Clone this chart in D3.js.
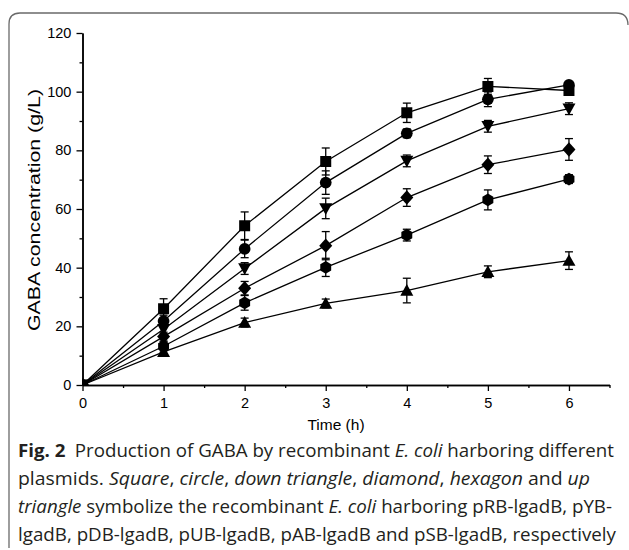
<!DOCTYPE html>
<html><head><meta charset="utf-8">
<script src="https://cdn.jsdelivr.net/npm/d3@7"></script>
<style>body{margin:0;background:#fff}svg{display:block}</style>
</head><body>
<script>
// ---- data ----
const times = [0, 1, 2, 3, 4, 5, 6];
const seriesNames = ["pRB-lgadB", "pYB-lgadB", "pDB-lgadB", "pUB-lgadB", "pAB-lgadB", "pSB-lgadB"];
const seriesShapes = ["square", "circle", "triangleDown", "diamond", "hexagon", "triangleUp"];
const pRB = [0, 26, 54.3, 76.2, 92.8, 101.8, 100.4];
const pYB = [0, 21.8, 46.4, 69, 85.8, 97.4, 102.3];
const pDB = [0, 19, 39.7, 60.2, 76.4, 88.2, 94.2];
const pUB = [0, 16.5, 33, 47.5, 63.9, 75.1, 80.3];
const pAB = [0, 13.2, 28, 40.1, 51.1, 63.1, 70.2];
const pSB = [0, 11.3, 21.3, 27.8, 32.2, 38.6, 42.4];
const errRB = [0, 3.4, 4.7, 4.6, 3.3, 2.7, 1];
const errYB = [0, 2, 3, 4, 1.5, 2.5, 1];
const errDB = [0, 1.5, 2, 3.5, 2, 2, 2];
const errUB = [0, 1.5, 2.3, 4.8, 3, 3, 3.7];
const errAB = [0, 1.5, 2.5, 3.1, 2, 3.4, 1.5];
const errSB = [0, 1.2, 1.5, 1.5, 4.2, 2, 3];
const xTicks = [0, 1, 2, 3, 4, 5, 6];
const yTicks = [0, 20, 40, 60, 80, 100, 120];
const xLabel = "Time (h)";
const yLabel = "GABA concentration (g/L)";

const seriesValues = [pRB, pYB, pDB, pUB, pAB, pSB];
const seriesErrors = [errRB, errYB, errDB, errUB, errAB, errSB];

const W = 629, H = 550;
const svg = d3.select("body").append("svg").attr("width", W).attr("height", H);

// frame
svg.append("path")
  .attr("d", "M9,548 L9,24 Q9,13 20,13 L616,13 Q628,13 628,25")
  .attr("fill", "none").attr("stroke", "#6a6a6a").attr("stroke-width", 1.3);

const x = d3.scaleLinear().domain([0, 6.5]).range([82.5, 609.5]);
const y = d3.scaleLinear().domain([0, 120]).range([385, 33]);

const g = svg.append("g");

// clip
svg.append("clipPath").attr("id", "plotclip").append("rect")
  .attr("x", x(0)).attr("y", y(120) - 10).attr("width", x(6.5) - x(0) + 10).attr("height", y(0) - y(120) + 10);

// axes
const font = "'Liberation Sans', Arial, sans-serif";
const xAxis = d3.axisBottom(x).tickValues(xTicks).tickFormat(d3.format("d")).tickSize(6).tickSizeOuter(0);
const xMinor = d3.axisBottom(x).tickValues(d3.range(0.5, 6.6, 1)).tickFormat("").tickSize(3).tickSizeOuter(0);
const yAxis = d3.axisLeft(y).tickValues(yTicks).tickFormat(d3.format("d")).tickSize(6).tickSizeOuter(0);
const yMinor = d3.axisLeft(y).tickValues(d3.range(10, 120, 20)).tickFormat("").tickSize(3).tickSizeOuter(0);

function styleAxis(sel) {
  sel.selectAll("path").attr("stroke", "#000").attr("stroke-width", 1.5);
  sel.selectAll("line").attr("stroke", "#000").attr("stroke-width", 1.3);
  sel.selectAll("text").attr("font-family", font).attr("font-size", 14.5).attr("fill", "#000");
}
g.append("g").attr("transform", `translate(0,${y(0)})`).call(xMinor).call(styleAxis);
g.append("g").attr("transform", `translate(0,${y(0)})`).call(xAxis).call(styleAxis)
  .selectAll("text").attr("dy", "0.95em");
g.append("g").attr("transform", `translate(${x(0)},0)`).call(yMinor).call(styleAxis);
g.append("g").attr("transform", `translate(${x(0)},0)`).call(yAxis).call(styleAxis)
  .selectAll("text").attr("dx", "-0.15em");

// axis titles
g.append("text").attr("x", (x(0) + x(6.5)) / 2 - 10).attr("y", 430)
  .attr("text-anchor", "middle").attr("font-family", font).attr("font-size", 15.5).text(xLabel);
g.append("text").attr("transform", `translate(40,${(y(0) + y(120)) / 2 + 1}) rotate(-90)`)
  .attr("text-anchor", "middle").attr("font-family", font).attr("font-size", 16.5)
  .attr("textLength", 242).attr("lengthAdjust", "spacingAndGlyphs").text(yLabel);

// lines
const line = d3.line().x((d, i) => x(times[i])).y(d => y(d));
seriesValues.forEach(vals => {
  g.append("path").attr("d", line(vals)).attr("fill", "none")
    .attr("stroke", "#000").attr("stroke-width", 1.3);
});

// error bars
seriesValues.forEach((vals, si) => {
  const errs = seriesErrors[si];
  vals.forEach((v, i) => {
    if (!errs[i]) return;
    const cx = x(times[i]);
    const y1 = y(v + errs[i]), y2 = y(v - errs[i]);
    g.append("line").attr("x1", cx).attr("x2", cx).attr("y1", y1).attr("y2", y2)
      .attr("stroke", "#000").attr("stroke-width", 1.3);
    [y1, y2].forEach(yy => g.append("line").attr("x1", cx - 4).attr("x2", cx + 4)
      .attr("y1", yy).attr("y2", yy).attr("stroke", "#000").attr("stroke-width", 1.3));
  });
});

// markers
function shapePath(shape) {
  switch (shape) {
    case "square": return "M-5.5,-5.5H5.5V5.5H-5.5Z";
    case "circle": return d3.symbol(d3.symbolCircle, 108)();
    case "triangleDown": return "M-6.5,-5.2L6.5,-5.2L0,6.5Z";
    case "triangleUp": return "M-6.5,5.2L6.5,5.2L0,-6.5Z";
    case "diamond": return "M0,-7.2L6.5,0L0,7.2L-6.5,0Z";
    case "hexagon": {
      const r = 6.3;
      return d3.range(6).map((k, j) => {
        const a = Math.PI / 3 * k + Math.PI / 6;
        return (j ? "L" : "M") + (r * Math.cos(a)).toFixed(2) + "," + (r * Math.sin(a)).toFixed(2);
      }).join("") + "Z";
    }
  }
}
const mk = g.append("g").attr("clip-path", "url(#plotclip)");
seriesValues.forEach((vals, si) => {
  mk.selectAll(null).data(vals).enter().append("path")
    .attr("d", shapePath(seriesShapes[si]))
    .attr("transform", (d, i) => `translate(${x(times[i])},${y(d)})`)
    .attr("fill", "#000");
});

// caption
const capFont = "'Open Sans', 'Noto Sans', sans-serif";
const cap = [
  { y: 457, w: 596, parts: [["Fig. 2", "bold"], ["\u2002Production of GABA by recombinant ", ""], ["E. coli", "italic"], [" harboring different", ""]] },
  { y: 485, w: 572, parts: [["plasmids. ", ""], ["Square", "italic"], [", ", ""], ["circle", "italic"], [", ", ""], ["down triangle", "italic"], [", ", ""], ["diamond", "italic"], [", ", ""], ["hexagon", "italic"], [" and ", ""], ["up", "italic"]] },
  { y: 513, w: 594, parts: [["triangle", "italic"], [" symbolize the recombinant ", ""], ["E. coli", "italic"], [" harboring pRB-lgadB, pYB-", ""]] },
  { y: 541, w: 598, parts: [["lgadB, pDB-lgadB, pUB-lgadB, pAB-lgadB and pSB-lgadB, respectively", ""]] }
];
cap.forEach(l => {
  const t = svg.append("text").attr("x", 18).attr("y", l.y)
    .attr("font-family", capFont).attr("font-size", 18.5).attr("fill", "#231f20")
    .attr("textLength", l.w).attr("lengthAdjust", "spacingAndGlyphs");
  l.parts.forEach(p => {
    const s = t.append("tspan").text(p[0]);
    if (p[1] === "bold") s.attr("font-weight", "bold");
    if (p[1] === "italic") s.attr("font-style", "italic");
  });
});
</script>
</body></html>
